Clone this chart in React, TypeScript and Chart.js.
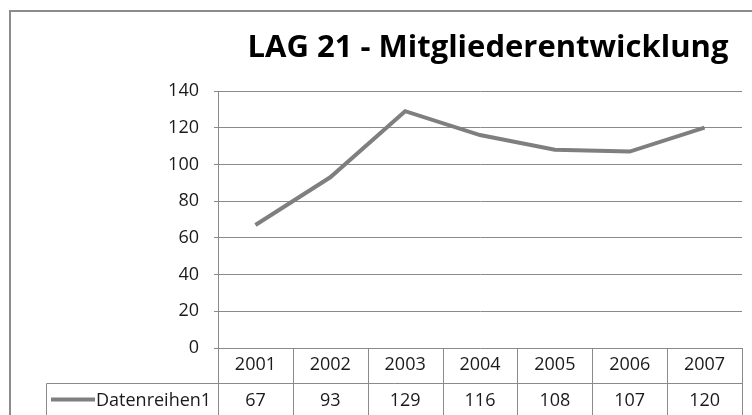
import React, { useEffect, useRef } from "react";
import { Chart, registerables } from "chart.js";

Chart.register(...registerables);

const TITLE = "LAG 21 - Mitgliederentwicklung";
const SERIES_NAME = "Datenreihen1";
const YEARS = ["2001", "2002", "2003", "2004", "2005", "2006", "2007"];
const MEMBERS = [67, 93, 129, 116, 108, 107, 120];
const Y_MIN = 0;
const Y_MAX = 140;
const Y_STEP = 20;

const FONT = "'Open Sans', Lato, sans-serif";
const TEXT_COLOR = "#1a1a1a";
const LINE_COLOR = "#7f7f7f";
const GRID_COLOR = "#8a8a8a";

const frameAndTablePlugin = {
  id: "frameAndTable",
  afterDraw(chart: any) {
    const ctx = chart.ctx as CanvasRenderingContext2D;
    const { left, right, bottom } = chart.chartArea;
    const xs = chart.scales.x;
    const n = YEARS.length;
    const colW = (right - left) / n;
    const rowH = 35;
    const legendLeft = 46;
    const tableBottom = chart.height + 5;

    ctx.save();
    // outer frame
    ctx.strokeStyle = "#8c8c8c";
    ctx.lineWidth = 2;
    ctx.beginPath();
    ctx.moveTo(10, chart.height + 5);
    ctx.lineTo(10, 11);
    ctx.lineTo(chart.width + 5, 11);
    ctx.stroke();

    // title
    ctx.fillStyle = "#000";
    ctx.font = `bold 31px ${FONT}`;
    ctx.textAlign = "center";
    ctx.textBaseline = "middle";
    ctx.fillText(TITLE, 488, 48);

    // table lines
    ctx.strokeStyle = GRID_COLOR;
    ctx.lineWidth = 1;
    ctx.beginPath();
    const r1 = Math.round(bottom + rowH) + 0.5;
    ctx.moveTo(legendLeft + 0.5, r1);
    ctx.lineTo(right, r1);
    ctx.moveTo(legendLeft + 0.5, r1);
    ctx.lineTo(legendLeft + 0.5, tableBottom);
    for (let k = 0; k <= n; k++) {
      const x = Math.round(left + k * colW) + 0.5;
      ctx.moveTo(x, bottom);
      ctx.lineTo(x, tableBottom);
    }
    ctx.stroke();

    // data row
    ctx.font = `18px ${FONT}`;
    ctx.fillStyle = TEXT_COLOR;
    ctx.textAlign = "center";
    ctx.textBaseline = "middle";
    const yRow = bottom + rowH * 1.5;
    MEMBERS.forEach((v, i) => {
      ctx.fillText(String(v), xs.getPixelForValue(i), yRow);
    });

    // legend key
    ctx.strokeStyle = LINE_COLOR;
    ctx.lineWidth = 4;
    ctx.beginPath();
    ctx.moveTo(51, yRow - 1);
    ctx.lineTo(95, yRow - 1);
    ctx.stroke();
    ctx.textAlign = "left";
    ctx.fillText(SERIES_NAME, 96, yRow);
    ctx.restore();
  },
};

export default function App() {
  const ref = useRef<HTMLCanvasElement | null>(null);

  useEffect(() => {
    document.body.style.margin = "0";
    const canvas = ref.current;
    if (!canvas) return;
    const chart = new Chart(canvas, {
      type: "line",
      data: {
        labels: YEARS,
        datasets: [
          {
            label: SERIES_NAME,
            data: MEMBERS,
            borderColor: LINE_COLOR,
            backgroundColor: LINE_COLOR,
            borderWidth: 4,
            pointRadius: 0,
            tension: 0,
          },
        ],
      },
      options: {
        responsive: false,
        animation: false,
        layout: { padding: { top: 91, right: 10, left: 0, bottom: 0 } },
        plugins: {
          legend: { display: false },
          title: { display: false },
          tooltip: { enabled: false },
        },
        scales: {
          x: {
            type: "category",
            offset: true,
            grid: { display: false, drawTicks: false },
            border: { display: false },
            ticks: {
              font: { family: FONT, size: 18 },
              color: TEXT_COLOR,
              padding: 6,
              maxRotation: 0,
            },
            afterFit(scale: any) {
              scale.height = 67;
            },
          },
          y: {
            min: Y_MIN,
            max: Y_MAX,
            ticks: {
              stepSize: Y_STEP,
              font: { family: FONT, size: 18 },
              color: TEXT_COLOR,
              padding: 15,
            },
            grid: { color: GRID_COLOR, tickLength: 4, drawTicks: true },
            border: { display: true, color: GRID_COLOR },
            afterFit(scale: any) {
              scale.width = 218;
            },
          },
        },
      },
      plugins: [frameAndTablePlugin],
    });
    return () => chart.destroy();
  }, []);

  return (
    <div style={{ width: 752, height: 415, overflow: "hidden" }}>
      <canvas ref={ref} width={752} height={415} style={{ display: "block" }} />
    </div>
  );
}
